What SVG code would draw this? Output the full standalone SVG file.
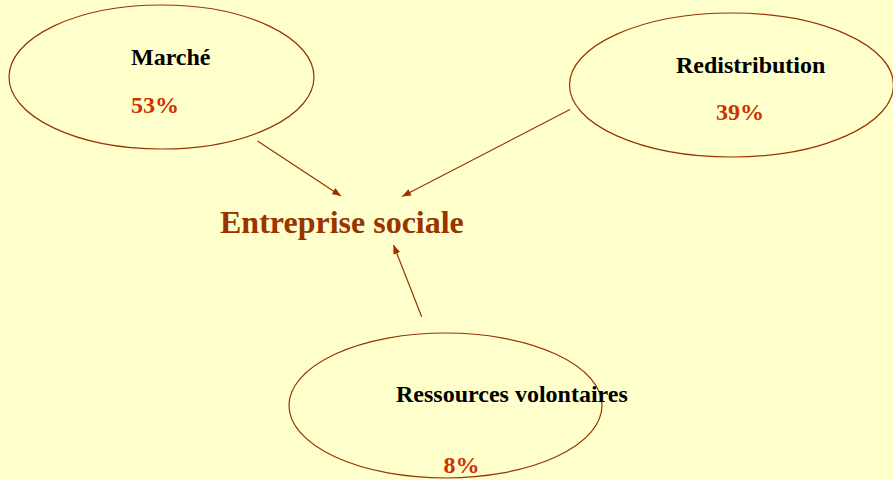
<svg xmlns="http://www.w3.org/2000/svg" width="893" height="480" viewBox="0 0 893 480">
<style>
.bub{fill:none;stroke:#993300;stroke-width:1.2}
.lbl{font-family:"Liberation Serif","Times New Roman",serif;font-weight:bold;font-size:24px;fill:#000}
.pct{font-family:"Liberation Serif","Times New Roman",serif;font-weight:bold;font-size:24px;fill:#CC3300}
.title{font-family:"Liberation Serif","Times New Roman",serif;font-weight:bold;font-size:32px;fill:#993300}
.edge{stroke:#993300;stroke-width:1.2;fill:none;marker-end:url(#ah)}
</style>
<defs>
<marker id="ah" viewBox="0 0 10 10" refX="10" refY="5" markerWidth="9" markerHeight="9" markerUnits="userSpaceOnUse" orient="auto">
<path d="M0,1 L10,5 L0,9 z" fill="#993300"/>
</marker>
</defs>
<rect width="893" height="480" fill="#FFFFCC"/>
<g id="marche">
<ellipse class="bub" cx="161.5" cy="77" rx="152.5" ry="72"/>
<text class="lbl" x="131" y="65">Marché</text>
<text class="pct" x="131" y="113">53%</text>
</g>
<g id="redistribution">
<ellipse class="bub" cx="731.5" cy="85" rx="162" ry="72"/>
<text class="lbl" x="676" y="73">Redistribution</text>
<text class="pct" x="716" y="120">39%</text>
</g>
<g id="ressources">
<ellipse class="bub" cx="445.5" cy="405.5" rx="156.5" ry="72.5"/>
<text class="lbl" x="396" y="401.5">Ressources volontaires</text>
<text class="pct" x="443.5" y="472.5">8%</text>
</g>
<g id="entreprise">
<text class="title" x="220" y="232.5">Entreprise sociale</text>
</g>
<g id="connectors">
<line class="edge" x1="257.5" y1="141" x2="341" y2="196"/>
<line class="edge" x1="570" y1="109.5" x2="402" y2="196.5"/>
<line class="edge" x1="421.7" y1="316.7" x2="393.5" y2="245"/>
</g>
</svg>
